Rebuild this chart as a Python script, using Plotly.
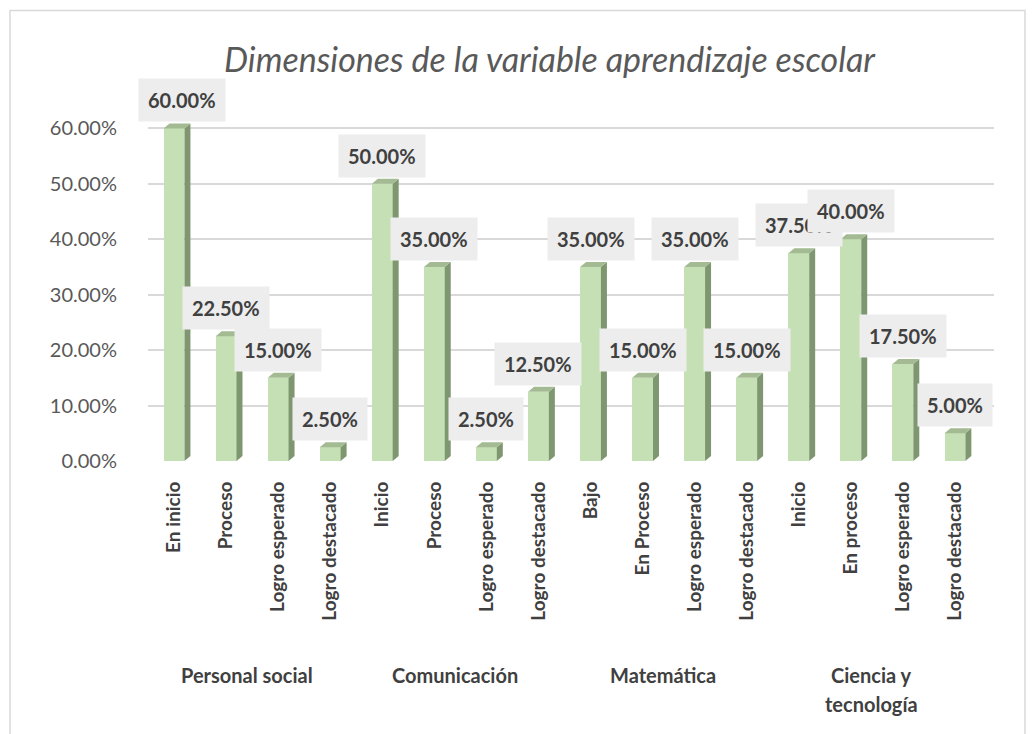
import plotly.graph_objects as go

# ---- data ----
categories = ["En inicio", "Proceso", "Logro esperado", "Logro destacado",
              "Inicio", "Proceso", "Logro esperado", "Logro destacado",
              "Bajo", "En Proceso", "Logro esperado", "Logro destacado",
              "Inicio", "En proceso", "Logro esperado", "Logro destacado"]
values = [0.60, 0.225, 0.15, 0.025,
          0.50, 0.35, 0.025, 0.125,
          0.35, 0.15, 0.35, 0.15,
          0.375, 0.40, 0.175, 0.05]
groups = ["Personal social", "Comunicación", "Matemática", "Ciencia y<br>tecnología"]
group_size = 4
y_ticks = [0, 0.1, 0.2, 0.3, 0.4, 0.5, 0.6]
title = "Dimensiones de la variable aprendizaje escolar"

# ---- styling ----
FONT = "Lato"
FRONT = "#C5E0B4"
SIDE = "#7F9771"
TOP = "#A3BA92"
W = 0.2      # half width of front face (category units)
DX = 0.115   # depth offset in x
DY = 0.009   # depth offset in y

xs = list(range(len(values)))

fig = go.Figure()
fig.add_trace(go.Bar(x=xs, y=values, width=2 * W, marker=dict(color=FRONT, line=dict(width=0)),
                     hoverinfo="skip", showlegend=False))

side_x, side_y, top_x, top_y = [], [], [], []
for i, v in zip(xs, values):
    side_x += [i + W, i + W + DX, i + W + DX, i + W, i + W, None]
    side_y += [0, DY, v + DY, v, 0, None]
    top_x += [i - W, i + W, i + W + DX, i - W + DX, i - W, None]
    top_y += [v, v, v + DY, v + DY, v, None]

fig.add_trace(go.Scatter(x=side_x, y=side_y, fill="toself", fillcolor=SIDE, mode="lines",
                         line=dict(width=0, color=SIDE), hoverinfo="skip", showlegend=False))
fig.add_trace(go.Scatter(x=top_x, y=top_y, fill="toself", fillcolor=TOP, mode="lines",
                         line=dict(width=0, color=TOP), hoverinfo="skip", showlegend=False))

# data labels
annotations = []
for i, v in zip(xs, values):
    annotations.append(dict(x=i, y=v, xref="x", yref="y", text=f"{v*100:.2f}%",
                            showarrow=False, yanchor="bottom", xanchor="center",
                            yshift=6, xshift=8 if i == 0 else 0,
                            bgcolor="#EDEDED", borderpad=9,
                            font=dict(family=FONT, size=20, color="#404040", weight="bold")))

# group labels (each line placed separately for Excel-like line spacing)
for g, name in enumerate(groups):
    cx = g * group_size + (group_size - 1) / 2
    for k, line in enumerate(name.split("<br>")):
        annotations.append(dict(x=cx - 0.1, y=-0.515, xref="x", yref="paper", text=line,
                                showarrow=False, yanchor="top", xanchor="center", yshift=-29 * k,
                                font=dict(family=FONT, size=20, color="#404040", weight="bold")))

# layout geometry
W_PX, H_PX = 1036, 734
ML, MR, MT, MB = 148, 42, 72.5, 273
pw = W_PX - ML - MR
ph = H_PX - MT - MB

def px_to_paper_x(px):
    return (px - ML) / pw

def px_to_paper_y(py):
    return (H_PX - MB - py) / ph

shapes = [dict(type="rect", xref="paper", yref="paper",
               x0=px_to_paper_x(10), x1=px_to_paper_x(1025),
               y0=px_to_paper_y(745), y1=px_to_paper_y(10),
               line=dict(color="#D9D9D9", width=1.5), fillcolor="rgba(0,0,0,0)", layer="below")]

fig.update_layout(
    width=W_PX, height=H_PX,
    margin=dict(l=ML, r=MR, t=MT, b=MB),
    paper_bgcolor="white", plot_bgcolor="white",
    title=dict(text=f"<i>{title}</i>", x=549.5 / W_PX, xref="container", xanchor="center",
               y=1 - 60 / H_PX, yanchor="middle",
               font=dict(family=FONT, size=34, color="#595959")),
    bargap=0,
    annotations=annotations,
    shapes=shapes,
    xaxis=dict(range=[-0.5, 15.75], tickmode="array", tickvals=xs, ticktext=categories,
               tickangle=-90, showgrid=False, zeroline=False, showline=False,
               ticks="outside", ticklen=12, tickcolor="rgba(0,0,0,0)",
               tickfont=dict(family=FONT, size=19, color="#404040", weight="bold")),
    yaxis=dict(range=[0, 0.7], tickmode="array", tickvals=y_ticks, tickformat=".2%",
               showgrid=True, gridcolor="#D9D9D9", gridwidth=2, zeroline=False, showline=False,
               ticks="outside", ticklen=26, tickcolor="rgba(0,0,0,0)",
               tickfont=dict(family=FONT, size=20, color="#595959")),
    font=dict(family=FONT),
)

fig.write_html("out.html", config={"displayModeBar": False},
               post_script="document.body.style.margin='0';")
